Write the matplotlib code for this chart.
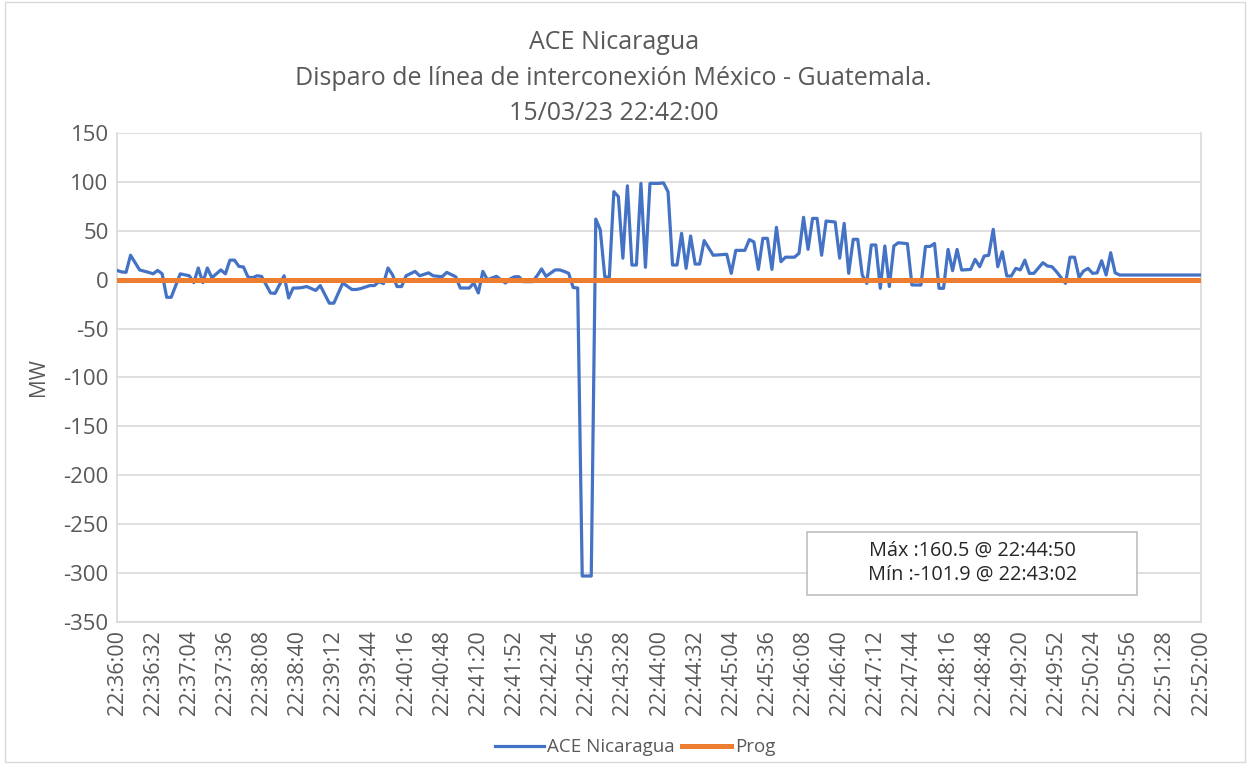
# ACE Nicaragua - disparo de línea MX-GT, 15/03/23
import matplotlib.pyplot as plt
from matplotlib.patches import Rectangle

plt.rcParams['font.family'] = ['Open Sans', 'DejaVu Sans']
plt.rcParams['axes.unicode_minus'] = False

# segundos desde 22:36:00 (muestras cada 4 s) y MW
t_ace = [0, 4, 8, 12, 20, 28, 32, 36, 40, 44, 48, 56, 60, 64, 68, 72, 76, 80, 84,
         92, 96, 100, 104, 108, 112, 116, 120, 124, 128, 136, 140, 148, 152, 156,
         160, 164, 168, 172, 176, 180, 188, 192, 200, 208, 212, 216, 224, 228, 232,
         236, 240, 244, 248, 252, 256, 264, 268, 276, 280, 288, 292, 300, 304, 312,
         316, 320, 324, 328, 336, 344, 348, 352, 356, 360, 368, 372, 376, 380, 388,
         392, 396, 400, 404, 408, 412, 416, 420, 424, 428, 432, 436, 440, 444, 448,
         452, 456, 460, 464, 468, 472, 476, 480, 484, 488, 492, 496, 500, 504, 508,
         512, 516, 520, 528, 540, 544, 548, 552, 556, 560, 564, 568, 572, 576, 580,
         584, 588, 592, 600, 604, 608, 612, 616, 620, 624, 628, 632, 636, 640, 644,
         648, 652, 656, 660, 664, 668, 672, 676, 680, 684, 688, 692, 700, 704, 712,
         716, 720, 724, 728, 732, 736, 740, 744, 748, 756, 760, 764, 768, 772, 776,
         780, 784, 788, 792, 796, 800, 804, 808, 812, 820, 824, 828, 832, 840, 844,
         848, 852, 856, 860, 864, 868, 872, 876, 880, 884, 888, 960]
ace = [9.5, 8, 7.5, 25, 10, 7.5, 6, 9.5, 6, -18, -18, 6, 5, 4, -3, 12, -3, 12, 2,
       10, 6, 20, 20, 13.6, 13, 2.7, 2, 4, 3.4, -13.6, -14, 4, -18.7, -8.5,
       -8.5, -8, -7, -9, -11, -6, -24, -24, -3.4, -10, -10, -9, -6, -6, -2,
       -4, 12, 5, -7, -7, 4, 8.5, 4, 7, 4, 3, 7.5, 3, -8.5, -8.5,
       -3.4, -13.6, 8.5, 0, 3.4, -3.4, 0.7, 3, 3, -2, -2, 4, 11, 3.4, 10,
       10, 8.5, 6.5, -8, -8.5, -303, -303, -303, 62, 51, 3, 2.4, 90, 85, 22,
       96, 15, 15, 98.5, 12.7, 98.5, 98.5, 98.5, 99, 90, 15, 15, 47.4, 11.6, 44.7,
       16, 16, 40, 25, 26, 6.5, 30, 30, 30, 41, 38.7, 10.6, 42.3, 42.3, 10.6,
       53.6, 18.4, 23, 23, 27, 63.8, 31, 62.7, 62.7, 25, 60, 59.5, 59, 22, 57.6,
       6.5, 41.3, 41.3, 4.8, -3.7, 35.5, 35.5, -8.8, 34.5, -7, 34.5, 37.8, 36.8, -5.4, -5.4,
       34, 34, 37, -8.8, -8.8, 31, 9.2, 31, 9.9, 10.5, 20.8, 13.3, 24.2, 25, 51.5,
       13.3, 28.6, 3.8, 3.8, 11.6, 10, 20, 6.5, 6.5, 17.4, 14, 13.3, 8.2, -3.7, 23,
       23, 2.4, 8.9, 11.6, 6.5, 7, 19.4, 4.8, 27.6, 7, 4.8, 4.8]

t_prog = [0, 960]
prog = [0, 0]

tick_secs = list(range(0, 961, 32))
tick_labels = ['22:36:00', '22:36:32', '22:37:04', '22:37:36', '22:38:08', '22:38:40',
               '22:39:12', '22:39:44', '22:40:16', '22:40:48', '22:41:20', '22:41:52',
               '22:42:24', '22:42:56', '22:43:28', '22:44:00', '22:44:32', '22:45:04',
               '22:45:36', '22:46:08', '22:46:40', '22:47:12', '22:47:44', '22:48:16',
               '22:48:48', '22:49:20', '22:49:52', '22:50:24', '22:50:56', '22:51:28',
               '22:52:00']

txt = '#595959'
grid = '#d9d9d9'

fig = plt.figure(figsize=(12.5, 7.64), dpi=100)
fig.patches.append(Rectangle((0.004, 0.003), 0.992, 0.994, transform=fig.transFigure,
                             fill=False, edgecolor=grid, linewidth=1))
ax = fig.add_axes([0.0936, 0.1859, 0.8672, 0.64])

ax.plot(t_ace, ace, color='#4472C4', linewidth=2.3, label='ACE Nicaragua', zorder=3)
ax.plot(t_prog, prog, color='#ED7D31', linewidth=3.6, label='Prog', zorder=4)

ax.set_xlim(0, 960)
ax.set_ylim(-350, 150)
ax.set_yticks(range(-350, 151, 50))
ax.set_xticks(tick_secs)
ax.set_xticklabels(tick_labels, rotation=90)
ax.tick_params(axis='x', length=0, colors=txt, labelsize=15.5, pad=6)
ax.tick_params(axis='y', length=0, colors=txt, labelsize=16, pad=6)
ax.grid(axis='y', color=grid, linewidth=1.2)
ax.set_axisbelow(True)
for s in ax.spines.values():
    s.set_color(grid)
    s.set_linewidth(1.2)
ax.spines['top'].set_visible(False)

ax.set_ylabel('MW', color=txt, fontsize=15, labelpad=10)

tx = 0.491
fig.text(tx, 0.944, 'ACE Nicaragua', ha='center', va='center', color=txt, fontsize=18)
fig.text(tx, 0.897, 'Disparo de línea de interconexión México - Guatemala.',
         ha='center', va='center', color=txt, fontsize=18)
fig.text(tx, 0.851, '15/03/23 22:42:00', ha='center', va='center', color=txt, fontsize=18)

# cuadro Máx / Mín
ax.add_patch(Rectangle((0.6365, 0.0552), 0.3045, 0.1288, transform=ax.transAxes,
                       facecolor='white', edgecolor='#bfbfbf', linewidth=1.2, zorder=5))
ax.text(0.789, 0.121,
        'Máx :160.5 @ 22:44:50\nMín :-101.9 @ 22:43:02',
        transform=ax.transAxes, ha='center', va='center', color='#262626',
        fontsize=14.3, linespacing=1.3, zorder=6)

leg = fig.legend(loc='center', bbox_to_anchor=(0.508, 0.022), ncol=2, frameon=False,
                 fontsize=13.5, handlelength=2.6, columnspacing=0.4, handletextpad=0.2)
for t in leg.get_texts():
    t.set_color(txt)

fig.savefig('out.png', dpi=100)
